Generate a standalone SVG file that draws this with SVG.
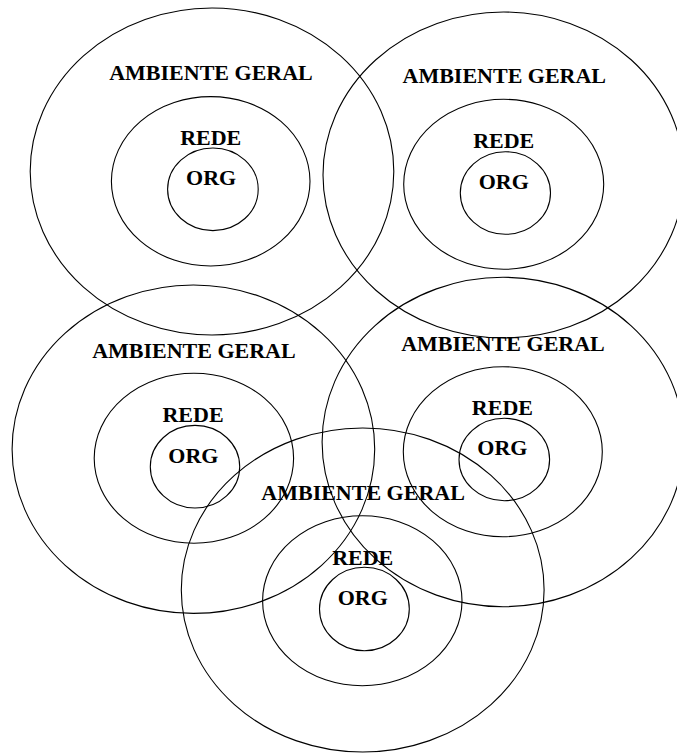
<svg xmlns="http://www.w3.org/2000/svg" width="677" height="753" viewBox="0 0 677 753">
  <style>
    .ring { fill: none; stroke: #000; stroke-width: 1.1; }
    .lbl { font-family: "Liberation Serif", "Times New Roman", serif; font-weight: bold; font-size: 22px; text-anchor: middle; fill: #000; }
  </style>
  <rect x="0" y="0" width="677" height="753" fill="#fff"/>

  <!-- Top-left environment -->
  <g id="env1">
    <ellipse class="ring" cx="212" cy="171.5" rx="181.8" ry="163.5"/>
    <ellipse class="ring" cx="210.7" cy="181.3" rx="99.3" ry="84.7"/>
    <ellipse class="ring" cx="212.9" cy="189.3" rx="45.3" ry="41.3"/>
    <text class="lbl" x="211" y="80">AMBIENTE GERAL</text>
    <text class="lbl" x="210.7" y="145">REDE</text>
    <text class="lbl" x="211.1" y="185">ORG</text>
  </g>

  <!-- Top-right environment -->
  <g id="env2">
    <ellipse class="ring" cx="503.5" cy="175" rx="180.5" ry="163"/>
    <ellipse class="ring" cx="503.7" cy="184.3" rx="100" ry="85"/>
    <ellipse class="ring" cx="505.4" cy="193" rx="45.1" ry="41.3"/>
    <text class="lbl" x="504.3" y="83.3">AMBIENTE GERAL</text>
    <text class="lbl" x="503.7" y="147.7">REDE</text>
    <text class="lbl" x="503.7" y="189">ORG</text>
  </g>

  <!-- Middle-left environment -->
  <g id="env3">
    <ellipse class="ring" cx="193.4" cy="449.2" rx="181.3" ry="164.2"/>
    <ellipse class="ring" cx="193.9" cy="458.3" rx="99.7" ry="85"/>
    <ellipse class="ring" cx="195" cy="466.7" rx="44.7" ry="41.3"/>
    <text class="lbl" x="193.9" y="358.3">AMBIENTE GERAL</text>
    <text class="lbl" x="193" y="421.7">REDE</text>
    <text class="lbl" x="193.4" y="463.3">ORG</text>
  </g>

  <!-- Middle-right environment -->
  <g id="env4">
    <ellipse class="ring" cx="503" cy="442" rx="180.9" ry="164.7"/>
    <ellipse class="ring" cx="502.8" cy="451.7" rx="99.5" ry="85"/>
    <ellipse class="ring" cx="504.3" cy="459.5" rx="45.3" ry="41.2"/>
    <text class="lbl" x="503" y="351">AMBIENTE GERAL</text>
    <text class="lbl" x="502.4" y="415">REDE</text>
    <text class="lbl" x="502.4" y="455">ORG</text>
  </g>

  <!-- Bottom environment -->
  <g id="env5">
    <ellipse class="ring" cx="362.7" cy="590" rx="181.4" ry="162"/>
    <ellipse class="ring" cx="362.3" cy="600.8" rx="99.7" ry="85"/>
    <ellipse class="ring" cx="364.4" cy="609" rx="44.9" ry="41.7"/>
    <text class="lbl" x="363.1" y="500">AMBIENTE GERAL</text>
    <text class="lbl" x="362.7" y="565">REDE</text>
    <text class="lbl" x="362.7" y="605">ORG</text>
  </g>

  <g id="connectors"/>
</svg>
